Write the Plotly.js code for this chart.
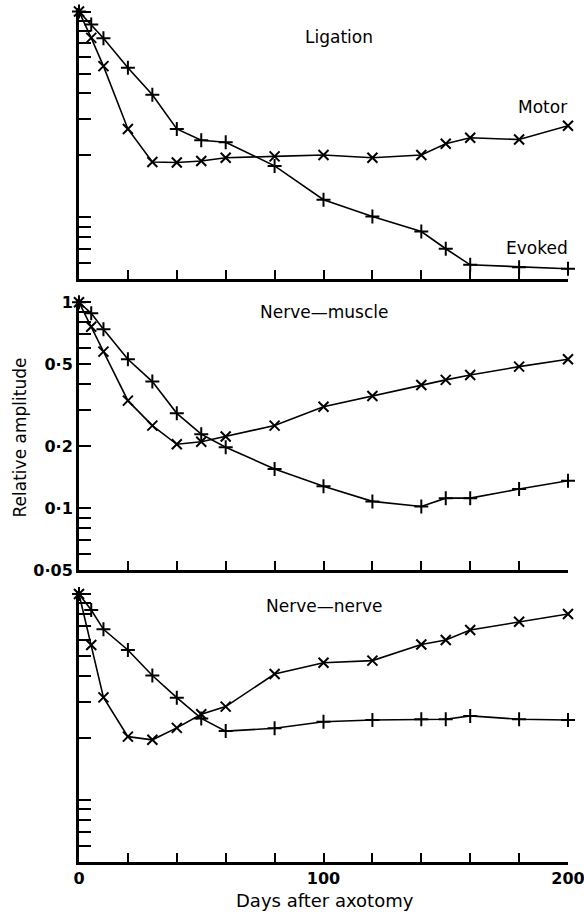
<!DOCTYPE html>
<html>
<head>
<meta charset="utf-8">
<script src="https://cdn.plot.ly/plotly-3.0.1.min.js"></script>
<style>
html,body{margin:0;padding:0;background:#fff;}
#chart{width:584px;height:913px;}
</style>
</head>
<body>
<div id="chart"></div>
<script>
// ---- data ----
const days = [0, 5, 10, 20, 30, 40, 50, 60, 80, 100, 120, 140, 150, 160, 180, 200];

// Ligation panel
const ligationMotor  = [1.0, 0.745, 0.543, 0.269, 0.186, 0.185, 0.188, 0.195, 0.198, 0.201, 0.195, 0.201, 0.228, 0.244, 0.239, 0.279];
const ligationEvoked = [1.0, 0.865, 0.742, 0.533, 0.394, 0.269, 0.237, 0.232, 0.178, 0.122, 0.101, 0.0855, 0.0705, 0.0589, 0.0574, 0.0564];

// Nerve–muscle panel
const nerveMuscleMotor  = [1.0, 0.761, 0.576, 0.333, 0.252, 0.2045, 0.2105, 0.223, 0.252, 0.311, 0.351, 0.397, 0.42, 0.444, 0.487, 0.529];
const nerveMuscleEvoked = [1.0, 0.884, 0.74, 0.529, 0.412, 0.289, 0.229, 0.198, 0.155, 0.128, 0.108, 0.102, 0.112, 0.112, 0.124, 0.136];

// Nerve–nerve panel
const nerveNerveMotor  = [1.0, 0.566, 0.315, 0.203, 0.196, 0.224, 0.261, 0.284, 0.409, 0.464, 0.475, 0.569, 0.598, 0.669, 0.734, 0.80];
const nerveNerveEvoked = [1.0, 0.836, 0.674, 0.535, 0.402, 0.314, 0.249, 0.216, 0.223, 0.240, 0.2445, 0.2465, 0.2465, 0.256, 0.2465, 0.2445];

// ticks
const yTickVals = [1, 0.9, 0.8, 0.7, 0.6, 0.5, 0.4, 0.3, 0.2, 0.1, 0.09, 0.08, 0.07, 0.06, 0.05];
const yTickText = ['1', '', '', '', '', '0·5', '', '', '0·2', '0·1', '', '', '', '', '0·05'];
const xTickVals = [0, 20, 40, 60, 80, 100, 120, 140, 160, 180, 200];
const xTickText = ['0', '', '', '', '', '100', '', '', '', '', '200'];

// ---- styling ----
const FONT = 'DejaVu Sans';
function series(y, sym, xa, ya) {
  return {
    x: days, y: y, xaxis: xa, yaxis: ya,
    type: 'scatter', mode: 'lines+markers', cliponaxis: false,
    line: {color: '#000', width: 1.6},
    marker: {symbol: sym, size: 10, color: '#000', line: {color: '#000', width: 2}},
    showlegend: false, hoverinfo: 'x+y'
  };
}
const data = [
  series(ligationMotor, 'x-thin-open', 'x', 'y'),
  series(ligationEvoked, 'cross-thin-open', 'x', 'y'),
  series(nerveMuscleMotor, 'x-thin-open', 'x2', 'y2'),
  series(nerveMuscleEvoked, 'cross-thin-open', 'x2', 'y2'),
  series(nerveNerveMotor, 'x-thin-open', 'x3', 'y3'),
  series(nerveNerveEvoked, 'cross-thin-open', 'x3', 'y3')
];

const yRange = [Math.log10(0.05), Math.log10(1.04)];
function yax(domain, labels) {
  return {
    type: 'log', range: yRange, domain: domain,
    showgrid: false, zeroline: false,
    showline: true, linecolor: '#000', linewidth: 3,
    ticks: 'inside', ticklen: 12, tickwidth: 2, tickcolor: '#000',
    tickmode: 'array', tickvals: yTickVals, ticktext: yTickText,
    showticklabels: labels, ticklabeloverflow: 'allow',
    tickfont: {family: FONT, size: 16, color: '#000', weight: 'bold'}
  };
}
function xax(anchor, labels) {
  return {
    range: [0, 200], anchor: anchor, domain: [0, 1],
    showgrid: false, zeroline: false,
    showline: true, linecolor: '#000', linewidth: 3,
    ticks: 'inside', ticklen: 9, tickwidth: 2, tickcolor: '#000',
    tickmode: 'array', tickvals: xTickVals, ticktext: xTickText,
    showticklabels: labels, ticklabeloverflow: 'allow',
    tickfont: {family: FONT, size: 16, color: '#000', weight: 'bold'}
  };
}

function note(text, x, y, xanchor, extra) {
  return Object.assign({
    text: text, xref: 'paper', yref: 'paper', x: x, y: y,
    xanchor: xanchor, yanchor: 'middle', showarrow: false,
    font: {family: FONT, size: 17, color: '#000'}
  }, extra || {});
}

const layout = {
  width: 584, height: 913,
  margin: {l: 79, r: 16, t: 8, b: 51},
  paper_bgcolor: '#fff', plot_bgcolor: '#fff',
  showlegend: false,
  xaxis: xax('y', false),
  xaxis2: xax('y2', false),
  xaxis3: xax('y3', true),
  yaxis: yax([0.6821, 1], false),
  yaxis2: yax([0.3416, 0.6595], true),
  yaxis3: yax([0, 0.3179], false),
  annotations: [
    note('Ligation', 0.5327, 0.966, 'center'),
    note('Motor', 1.002, 0.884, 'right'),
    note('Evoked', 1.004, 0.719, 'right'),
    note('Nerve—muscle', 0.502, 0.644, 'center'),
    note('Nerve—nerve', 0.502, 0.2998, 'center'),
    note('Relative amplitude', -0.1217, 0.4977, 'center', {textangle: -90}),
    note('Days after axotomy', 0.503, -0.0445, 'center', {font: {family: FONT, size: 18, color: '#000'}})
  ]
};

Plotly.newPlot('chart', data, layout, {staticPlot: true, displayModeBar: false});
</script>
</body>
</html>
